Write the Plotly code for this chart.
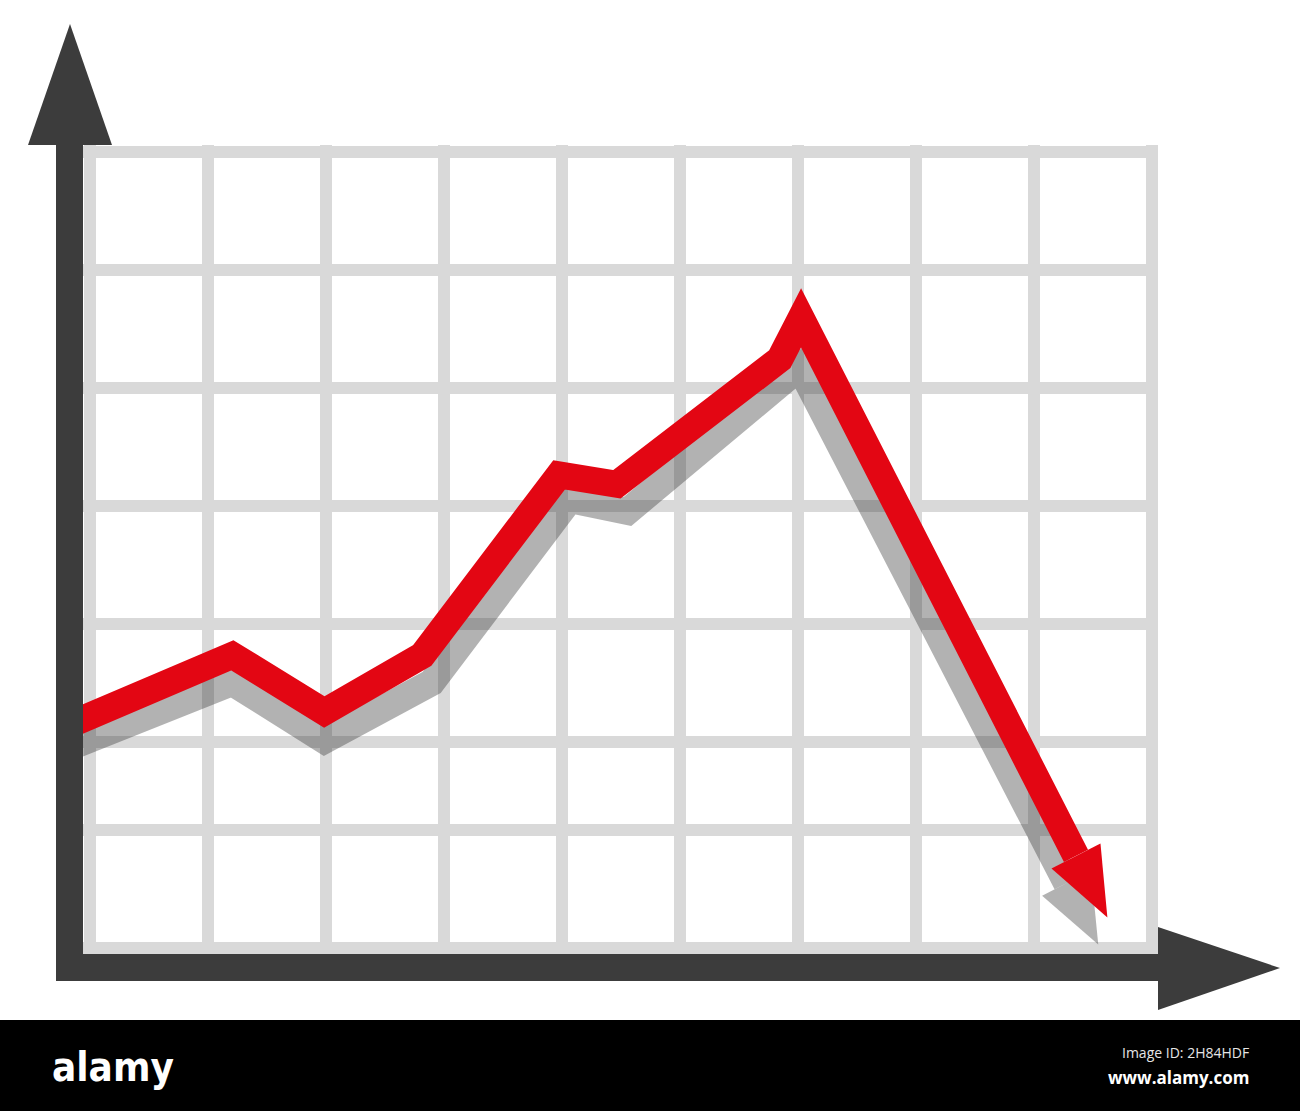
import numpy as np
import plotly.graph_objects as go

# grid positions, in grid units (one unit = one cell)
grid_cols = [0, 1, 2, 3, 4, 5, 6, 7, 8, 9]
grid_rows = [0, 1, 1.75, 2.75, 3.75, 4.75, 5.75, 6.75]

# red trend line, ends in an arrow pointing down
trend_x = [-0.22, 1.21, 1.99, 2.82, 3.98, 4.47, 5.85, 6.03, 8.36]
trend_y = [1.87, 2.48, 2.00, 2.48, 4.01, 3.93, 4.99, 5.34, 0.78]

# gray drop shadow under the trend line
shadow_x = [-0.22, 1.21, 1.99, 2.90, 4.07, 4.56, 6.02, 8.28]
shadow_y = [1.68, 2.25, 1.76, 2.25, 3.80, 3.70, 4.92, 0.55]

RED = "#e30613"
SHADOW = "rgba(47,47,47,0.37)"
GRID = "#d9d9d9"
DARK = "#3c3c3c"

W, H = 1300, 1111
CELL = 118                      # pixels per grid unit
PLOT_L, PLOT_R, PLOT_T, PLOT_B = 83, 1158, 145, 954
ORIGIN_X, ORIGIN_Y = 89.5, 948  # pixel position of grid (0, 0)

LINE_W = 27
HEAD_LEN = 0.585
HEAD_HALF = 0.233


def arrow_head(xs, ys, length=HEAD_LEN, half=HEAD_HALF):
    """triangle at the end of a polyline, pointing along its last segment"""
    p = np.array([xs[-1], ys[-1]])
    d = p - np.array([xs[-2], ys[-2]])
    d = d / np.linalg.norm(d)
    n = np.array([-d[1], d[0]])
    pts = [p + n * half, p + d * length, p - n * half, p + n * half]
    return [q[0] for q in pts], [q[1] for q in pts]


# paper coordinates from pixel positions (for the decoration only)
def px(x):
    return (x - PLOT_L) / (PLOT_R - PLOT_L)


def py(y):
    return (PLOT_B - y) / (PLOT_B - PLOT_T)


fig = go.Figure()

# shadow
fig.add_trace(go.Scatter(x=shadow_x, y=shadow_y, mode="lines",
                         line=dict(color=SHADOW, width=LINE_W), hoverinfo="skip"))
hx, hy = arrow_head(shadow_x, shadow_y)
fig.add_trace(go.Scatter(x=hx, y=hy, mode="lines", fill="toself",
                         fillcolor=SHADOW, line=dict(width=0), hoverinfo="skip"))

# red line
fig.add_trace(go.Scatter(x=trend_x, y=trend_y, mode="lines",
                         line=dict(color=RED, width=LINE_W), hoverinfo="skip"))
hx, hy = arrow_head(trend_x, trend_y)
fig.add_trace(go.Scatter(x=hx, y=hy, mode="lines", fill="toself",
                         fillcolor=RED, line=dict(width=0), hoverinfo="skip"))

shapes = [
    # arrow heads of the axes
    dict(type="path", xref="paper", yref="paper", fillcolor=DARK, line_width=0,
         path=f"M {px(28)},{py(145)} L {px(70)},{py(24)} L {px(112)},{py(145)} Z"),
    dict(type="path", xref="paper", yref="paper", fillcolor=DARK, line_width=0,
         path=f"M {px(1158)},{py(927)} L {px(1280)},{py(968)} L {px(1158)},{py(1010)} Z"),
    # black footer band
    dict(type="rect", xref="paper", yref="paper", fillcolor="black", line_width=0,
         x0=px(0), x1=px(W), y0=py(1020), y1=py(H)),
]

annotations = [
    dict(text="<b>alamy</b>", x=px(50), y=py(1067), xanchor="left", yanchor="middle",
         font=dict(family="DejaVu Sans Condensed, Liberation Sans", size=40, color="white")),
    dict(text="Image ID: 2H84HDF", x=px(1251), y=py(1052), xanchor="right", yanchor="middle",
         font=dict(family="Open Sans", size=14, color="#e6e6e6")),
    dict(text="<b>www.alamy.com</b>", x=px(1251), y=py(1077), xanchor="right", yanchor="middle",
         font=dict(family="Open Sans", size=17, color="white")),
]
for a in annotations:
    a.update(xref="paper", yref="paper", showarrow=False)

fig.update_layout(
    width=W, height=H, autosize=False,
    margin=dict(l=PLOT_L, r=W - PLOT_R, t=PLOT_T, b=H - PLOT_B, pad=0),
    paper_bgcolor="white", plot_bgcolor="white",
    showlegend=False, shapes=shapes, annotations=annotations,
)
fig.update_xaxes(
    range=[(PLOT_L - ORIGIN_X) / CELL, (PLOT_R - ORIGIN_X) / CELL],
    tickvals=grid_cols, showticklabels=False, ticks="",
    showgrid=True, gridcolor=GRID, gridwidth=12, zeroline=False,
    showline=True, linecolor=DARK, linewidth=LINE_W, fixedrange=True,
)
fig.update_yaxes(
    range=[(ORIGIN_Y - PLOT_B) / CELL, (ORIGIN_Y - PLOT_T) / CELL],
    tickvals=grid_rows, showticklabels=False, ticks="",
    showgrid=True, gridcolor=GRID, gridwidth=12, zeroline=False,
    showline=True, linecolor=DARK, linewidth=LINE_W, fixedrange=True,
)

# sharp (mitred) corners on the thick lines, like the original drawing
js = (
    "document.body.style.margin='0';"
    "document.querySelectorAll('path.js-line').forEach(function(p){"
    "p.style.strokeMiterlimit='10';});"
)
fig.write_html("out.html", config={"displayModeBar": False}, post_script=js)
